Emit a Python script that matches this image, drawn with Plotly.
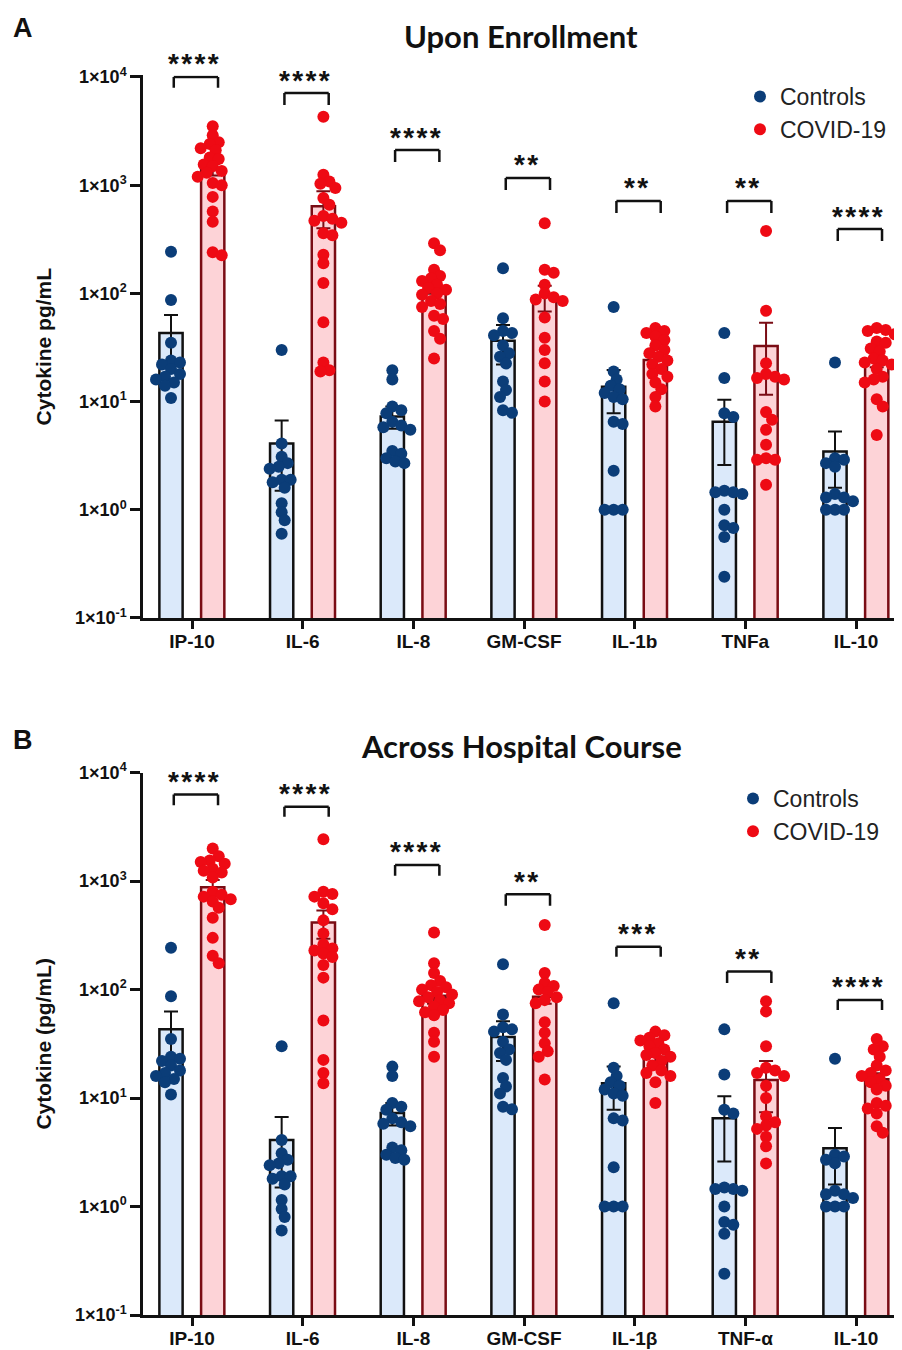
import numpy as np
import plotly.graph_objects as go

# ---------------- data ----------------
categories_a = ["IP-10", "IL-6", "IL-8", "GM-CSF", "IL-1b", "TNFa", "IL-10"]
categories_b = ["IP-10", "IL-6", "IL-8", "GM-CSF", "IL-1β", "TNF-α", "IL-10"]

controls_mean = [43, 4.1, 7.3, 36.5, 13.7, 6.5, 3.45]
controls_sem = [20, 2.6, 1.7, 14.5, 5.9, 3.9, 1.85]
controls_points = [
    [243, 87, 35, 24, 23, 22, 20, 18, 17, 16, 15, 14, 10.8],
    [30, 4.1, 3.1, 2.7, 2.5, 2.4, 1.9, 1.9, 1.8, 1.6, 1.15, 0.95, 0.8, 0.6],
    [19.5, 16, 9.0, 8.3, 7.8, 6.5, 6.0, 5.8, 5.5, 3.5, 3.3, 3.0, 2.8, 2.7],
    [171, 59, 45, 43, 41, 33, 28, 26, 22.5, 15.3, 12.8, 11, 8.3, 7.9],
    [75, 19, 16, 14, 13, 12, 11, 10.5, 6.5, 6.2, 2.3, 1.0, 1.0, 1.0],
    [43, 16.5, 7.8, 7.2, 1.5, 1.45, 1.45, 1.4, 1.0, 0.72, 0.68, 0.56, 0.24],
    [23, 3.0, 2.9, 2.7, 2.5, 1.4, 1.3, 1.3, 1.2, 1.0, 1.0, 1.0],
]

covid_a_mean = [1400, 640, 100, 93, 24.2, 32.6, 23.4]
covid_a_sem = [170, 240, 15, 25, 2.8, 21, 2.6]
covid_a_points = [
    [3500, 2900, 2500, 2400, 2200, 2100, 1800, 1750, 1550, 1500, 1350, 1300, 1200,
     1050, 1000, 780, 570, 460, 240, 225],
    [4300, 1250, 1080, 1030, 940, 760, 660, 520, 490, 470, 450, 360, 345, 228, 190,
     125, 54, 23, 19.5, 19],
    [290, 250, 165, 145, 138, 130, 120, 112, 108, 100, 97, 85, 80, 75, 62, 58, 45, 38, 25],
    [445, 165, 155, 120, 100, 92, 88, 85, 60, 39, 30, 22.6, 15.3, 10],
    [48, 45, 43, 40, 37, 33, 30, 28, 26, 24, 22, 20, 18, 17, 15, 13, 11, 9],
    [378, 69, 22.6, 18, 17, 16.5, 16, 8, 6.8, 5.5, 4.0, 3.0, 2.9, 2.9, 1.7],
    [48, 46, 45, 42, 36, 35, 31, 29, 25, 24, 23, 22, 20, 17, 16, 15, 10.5, 9, 4.9],
]

covid_b_mean = [880, 415, 88, 86, 24.1, 14.7, 14.9]
covid_b_sem = [145, 120, 14, 12, 2.4, 7.3, 2.0]
covid_b_points = [
    [2000, 1700, 1550, 1500, 1450, 1300, 1250, 1200, 1080, 800, 750, 720, 680, 650,
     570, 460, 300, 205, 175],
    [2430, 800, 760, 720, 625, 550, 435, 330, 260, 240, 230, 215, 200, 169, 129, 52,
     22.5, 17, 13.7],
    [336, 175, 142, 120, 110, 105, 100, 95, 90, 85, 80, 78, 75, 70, 65, 62, 58, 40, 33, 24],
    [394, 142, 115, 108, 100, 95, 85, 80, 75, 50, 40, 32, 27, 24, 14.8],
    [41, 38, 36, 34, 32, 30, 28, 26, 25, 24, 22, 20, 18, 17, 16, 14, 9],
    [78, 63, 30, 19, 18, 17, 16, 13, 10, 6.8, 6, 5.6, 5.2, 4.4, 3.6, 2.5],
    [35, 30, 28, 24, 20, 18, 17, 16, 15, 14, 13, 12, 9, 8.5, 8, 7.2, 5.5, 4.8],
]

stars_a = ["****", "****", "****", "**", "**", "**", "****"]
stars_b = ["****", "****", "****", "**", "***", "**", "****"]
# bracket heights (log10 units): top line, leg bottom
bracket_a = [(4.0, 3.90), (3.852, 3.741), (3.325, 3.214), (3.067, 2.956),
             (2.854, 2.743), (2.854, 2.743), (2.595, 2.484)]
bracket_b = [(3.80, 3.70), (3.687, 3.594), (3.15, 3.05), (2.879, 2.774),
             (2.396, 2.304), (2.166, 2.06), (1.905, 1.813)]

tick_vals = [0.1, 1, 10, 100, 1000, 10000]
tick_text = ["1×10<sup>-1</sup>", "1×10<sup>0</sup>", "1×10<sup>1</sup>",
             "1×10<sup>2</sup>", "1×10<sup>3</sup>", "1×10<sup>4</sup>"]

# ---------------- layout geometry ----------------
# The page body has an 8px margin, so the figure starts at page (8, 8).
PAGE_OFF = 8
W, H = 902 - PAGE_OFF, 1350 - PAGE_OFF
ML, MR, MT, MB = 143 - PAGE_OFF, 0, 12, 12
PW = W - ML - MR
PH = H - MT - MB
DECADE_PX = 108.2
CAT_PX = 110.67
X_RANGE = [-0.443, (902 - 192) / CAT_PX]


def px_x(page_x):
    return (page_x - PAGE_OFF - ML) / PW


def px_y(page_y):
    return (H - MB - (page_y - PAGE_OFF)) / PH


A_TOP_LOG = 4.015
domA = [px_y(618), px_y(77 - (A_TOP_LOG - 4) * DECADE_PX)]
domB = [px_y(1315), px_y(772.7)]

C_OFF, V_OFF, BAR_W = -0.19, 0.187, 0.21
CTRL_FILL, CTRL_LINE, CTRL_DOT = "#dbe9fa", "#111111", "#0b3d78"
COV_FILL, COV_LINE, COV_DOT = "#fdd3d7", "#7a0c14", "#ee0a14"
MSIZE = 12
FONT = "Liberation Sans, Arial"


def swarm(values, center):
    """Spread equal-ish values sideways so dots do not pile up."""
    placed = []
    xs = []
    for v in values:
        py = np.log10(v) * DECADE_PX
        chosen = 0.0
        found = False
        for k in range(0, 12):
            for sgn in ([1] if k == 0 else [1, -1]):
                off = sgn * k * 3.0
                if all((off - ox) ** 2 + (py - oy) ** 2 >= 8.5 ** 2 for ox, oy in placed):
                    chosen = off
                    found = True
                    break
            if found:
                break
        placed.append((chosen, py))
        xs.append(center + chosen / CAT_PX)
    return xs


fig = go.Figure()


def add_panel(xa, ya, mean_c, sem_c, pts_c, mean_v, sem_v, pts_v, legend_name):
    idx = list(range(len(mean_c)))
    fig.add_trace(go.Bar(
        x=[i + C_OFF for i in idx], y=mean_c, width=BAR_W, xaxis=xa, yaxis=ya,
        marker=dict(color=CTRL_FILL, line=dict(color=CTRL_LINE, width=2.5)),
        error_y=dict(type="data", array=sem_c, color=CTRL_LINE, thickness=2, width=7),
        showlegend=False, hoverinfo="skip"))
    fig.add_trace(go.Bar(
        x=[i + V_OFF for i in idx], y=mean_v, width=BAR_W, xaxis=xa, yaxis=ya,
        marker=dict(color=COV_FILL, line=dict(color=COV_LINE, width=2.5)),
        error_y=dict(type="data", array=sem_v, color=COV_LINE, thickness=2, width=7),
        showlegend=False, hoverinfo="skip"))
    cx, cy, vx, vy = [], [], [], []
    for i in idx:
        cx += swarm(pts_c[i], i + C_OFF)
        cy += pts_c[i]
        vx += swarm(pts_v[i], i + V_OFF)
        vy += pts_v[i]
    fig.add_trace(go.Scatter(
        x=cx, y=cy, mode="markers", name="Controls", xaxis=xa, yaxis=ya,
        marker=dict(color=CTRL_DOT, size=MSIZE), cliponaxis=False, legend=legend_name))
    fig.add_trace(go.Scatter(
        x=vx, y=vy, mode="markers", name="COVID-19", xaxis=xa, yaxis=ya,
        marker=dict(color=COV_DOT, size=MSIZE), cliponaxis=False, legend=legend_name))


add_panel("x", "y", controls_mean, controls_sem, controls_points,
          covid_a_mean, covid_a_sem, covid_a_points, "legend")
add_panel("x2", "y2", controls_mean, controls_sem, controls_points,
          covid_b_mean, covid_b_sem, covid_b_points, "legend2")

shapes = []
annotations = []


def add_brackets(xref, yref, brackets, stars):
    for i, ((top, leg), s) in enumerate(zip(brackets, stars)):
        x0, x1 = i - 0.165, i + 0.235
        for (xa0, ya0, xa1, ya1) in [(x0, 10 ** leg, x0, 10 ** top),
                                     (x0, 10 ** top, x1, 10 ** top),
                                     (x1, 10 ** top, x1, 10 ** leg)]:
            shapes.append(dict(type="line", xref=xref, yref=yref,
                               x0=xa0, y0=ya0, x1=xa1, y1=ya1,
                               line=dict(color="#111111", width=2.5)))
        annotations.append(dict(
            xref=xref, yref=yref, x=(x0 + x1) / 2 - 0.02, y=top, yshift=13,
            text="\u200a".join(s), showarrow=False, xanchor="center", yanchor="middle",
            font=dict(family=FONT, size=28, color="#111111", weight="bold")))


add_brackets("x", "y", bracket_a, stars_a)
add_brackets("x2", "y2", bracket_b, stars_b)

annotations += [
    dict(xref="paper", yref="paper", x=px_x(521), y=px_y(36), text="<b>Upon Enrollment</b>",
         showarrow=False, xanchor="center", yanchor="middle",
         font=dict(family="Lato", size=31, color="#111111")),
    dict(xref="paper", yref="paper", x=px_x(521), y=px_y(746), text="<b>Across Hospital Course</b>",
         showarrow=False, xanchor="center", yanchor="middle",
         font=dict(family="Lato", size=31, color="#111111")),
    dict(xref="paper", yref="paper", x=px_x(23), y=px_y(28), text="<b>A</b>",
         showarrow=False, xanchor="center", yanchor="middle",
         font=dict(family=FONT, size=27, color="#111111")),
    dict(xref="paper", yref="paper", x=px_x(23), y=px_y(740), text="<b>B</b>",
         showarrow=False, xanchor="center", yanchor="middle",
         font=dict(family=FONT, size=27, color="#111111")),
]


def yaxis(dom, top, title):
    return dict(type="log", domain=dom, range=[-1, top], tickvals=tick_vals,
                ticktext=tick_text, ticks="outside", ticklen=10, tickwidth=2.5,
                tickcolor="#111111", showline=True, linecolor="#111111", linewidth=2.5,
                showgrid=False, zeroline=False, automargin=False,
                tickfont=dict(family=FONT, size=18, color="#111111", weight="bold"),
                title=dict(text=title, standoff=18,
                           font=dict(family=FONT, size=21, color="#111111", weight="bold")))


def xaxis(anchor, labels):
    return dict(domain=[0, 1], anchor=anchor, range=X_RANGE, tickvals=list(range(7)),
                ticktext=labels, ticks="outside", ticklen=8, tickwidth=2.5,
                tickcolor="#111111", showline=True, linecolor="#111111", linewidth=2.5,
                showgrid=False, zeroline=False, automargin=False, ticklabelstandoff=-4,
                tickfont=dict(family=FONT, size=19, color="#111111", weight="bold"))


legend_common = dict(xanchor="left", yanchor="middle", bgcolor="rgba(0,0,0,0)",
                     font=dict(family=FONT, size=23, color="#222222"),
                     itemwidth=30, tracegroupgap=0)

fig.update_layout(
    width=W, height=H, margin=dict(l=ML, r=MR, t=MT, b=MB, autoexpand=False),
    paper_bgcolor="white", plot_bgcolor="white",
    barmode="overlay",
    xaxis=xaxis("y", categories_a), yaxis=yaxis(domA, A_TOP_LOG, "Cytokine pg/mL"),
    xaxis2=xaxis("y2", categories_b), yaxis2=yaxis(domB, 4, "Cytokine (pg/mL)"),
    legend=dict(legend_common, x=px_x(740), y=px_y(113)),
    legend2=dict(legend_common, x=px_x(733), y=px_y(815)),
    shapes=shapes, annotations=annotations,
)

fig.write_html("out.html")
